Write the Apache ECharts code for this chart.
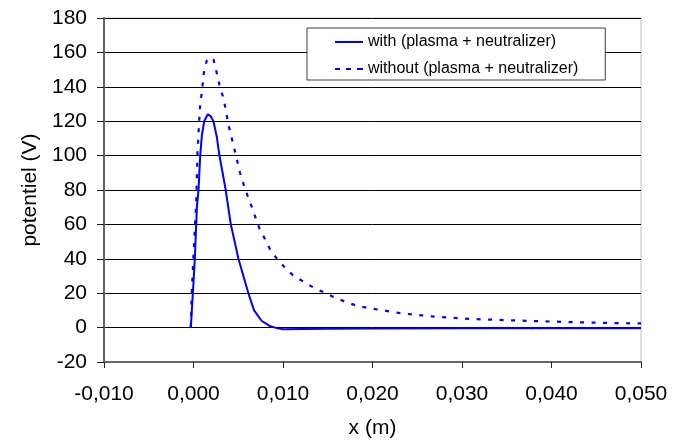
<!DOCTYPE html>
<html>
<head>
<meta charset="utf-8">
<script src="https://cdn.jsdelivr.net/npm/echarts@6/dist/echarts.min.js"></script>
<style>
html,body{margin:0;padding:0;background:#fff;}
#chart{width:674px;height:444px;}
</style>
</head>
<body>
<div id="chart"></div>
<script>
// ---- data ----
var xTicks = [-0.010, 0.000, 0.010, 0.020, 0.030, 0.040, 0.050];
var yTicks = [-20, 0, 20, 40, 60, 80, 100, 120, 140, 160, 180];

var seriesNames = ['with (plasma + neutralizer)', 'without (plasma + neutralizer)'];

var withX = [-0.0003, -0.00007, 0.00015, 0.00038, 0.00056, 0.00075, 0.00094, 0.0012, 0.00160, 0.0019, 0.00223, 0.0026, 0.0029, 0.00325, 0.0036, 0.00417, 0.00502, 0.00613, 0.00677, 0.0076, 0.0085, 0.0093, 0.0100, 0.0120, 0.0150, 0.0200, 0.0300, 0.0400, 0.0500];
var withV = [0, 20, 40, 70, 80, 100, 112, 120, 124, 123, 120, 111, 100, 90, 80, 60, 40, 20, 10, 4, 1, -0.3, -1, -0.8, -0.6, -0.5, -0.4, -0.4, -0.4];

var withoutX = [-0.0003, -0.00018, 0.0000, 0.00019, 0.0003, 0.00038, 0.00045, 0.00056, 0.00067, 0.00075, 0.00094, 0.0012, 0.0015, 0.00186, 0.00223, 0.0026, 0.0029, 0.00328, 0.00353, 0.0039, 0.00428, 0.00465, 0.0052, 0.00558, 0.00613, 0.0065, 0.00736, 0.0080, 0.00855, 0.0093, 0.0102, 0.0111, 0.0123, 0.0134, 0.0146, 0.0158, 0.0170, 0.0182, 0.0195, 0.0206, 0.0234, 0.0273, 0.0310, 0.0350, 0.0388, 0.0427, 0.0465, 0.0500];
var withoutV = [0, 22, 42, 61, 72, 88, 102, 113, 123, 130, 137, 150, 155.5, 157, 156, 148, 141, 134.5, 128.6, 118, 110, 102, 90, 83.6, 75.2, 70.3, 57.7, 51.3, 45.5, 40.2, 35, 30.5, 26.6, 23.3, 20.4, 17.5, 14.9, 12.8, 11.4, 10.5, 8.2, 6.2, 5.0, 4.3, 3.7, 3.1, 2.7, 2.4];

function zip(a, b) { return a.map(function (v, i) { return [v, b[i]]; }); }

var FONT = '"Liberation Sans", Arial, sans-serif';
var chart = echarts.init(document.getElementById('chart'), null, {renderer: 'canvas'});
chart.setOption({
  animation: false,
  backgroundColor: '#ffffff',
  textStyle: {fontFamily: FONT, color: '#000'},
  grid: {left: 104, right: 33, top: 18, bottom: 82, show: true, borderColor: '#c0c0c0', borderWidth: 1, backgroundColor: 'transparent'},
  legend: {
    orient: 'vertical',
    left: 307, top: 28,
    padding: [6, 27, 3, 28],
    itemGap: 11,
    itemWidth: 28, itemHeight: 16,
    backgroundColor: '#fff',
    borderColor: '#404040', borderWidth: 1,
    textStyle: {fontFamily: FONT, fontSize: 16, color: '#000'},
    data: [
      {name: seriesNames[0], icon: 'path://M0,7h28v2h-28zM0,0h0.01v0.01h-0.01zM0,16h0.01v0.01h-0.01z', itemStyle: {color: '#0000ff'}},
      {name: seriesNames[1], icon: 'path://M0,7h5v2h-5zM11,7h5v2h-5zM22,7h6v2h-6zM0,0h0.01v0.01h-0.01zM0,16h0.01v0.01h-0.01z', itemStyle: {color: '#0000ff'}}
    ]
  },
  xAxis: {
    type: 'value',
    min: xTicks[0], max: xTicks[xTicks.length - 1], interval: 0.01,
    name: 'x (m)', nameLocation: 'middle', nameGap: 56,
    nameTextStyle: {fontFamily: FONT, fontSize: 21, color: '#000'},
    axisLine: {show: true, onZero: false, lineStyle: {color: '#666', width: 2}},
    axisTick: {show: true, inside: false, length: 6, lineStyle: {color: '#222', width: 1}},
    axisLabel: {fontFamily: FONT, fontSize: 21, color: '#000', margin: 22,
      formatter: function (v) { return v.toFixed(3).replace('.', ','); }},
    splitLine: {show: false}
  },
  yAxis: {
    type: 'value',
    min: yTicks[0], max: yTicks[yTicks.length - 1], interval: 20,
    name: 'potentiel (V)', nameLocation: 'middle', nameGap: 62,
    nameTextStyle: {fontFamily: FONT, fontSize: 21, color: '#000'},
    axisLine: {show: true, onZero: false, lineStyle: {color: '#666', width: 2}},
    axisTick: {show: true, inside: false, length: 7, lineStyle: {color: '#222', width: 1}},
    axisLabel: {fontFamily: FONT, fontSize: 21, color: '#000', margin: 17},
    splitLine: {show: true, lineStyle: {color: '#000', width: 1}}
  },
  series: [
    {
      name: seriesNames[0], type: 'line', symbol: 'none', showSymbol: false,
      data: zip(withX, withV),
      lineStyle: {color: '#0000ff', width: 2, type: 'solid'},
      itemStyle: {color: '#0000ff'},
      z: 3
    },
    {
      name: seriesNames[1], type: 'line', symbol: 'none', showSymbol: false,
      data: zip(withoutX, withoutV),
      lineStyle: {color: '#0000ff', width: 2.2, type: [4, 7.5]},
      itemStyle: {color: '#0000ff'},
      z: 3
    }
  ]
});
</script>
</body>
</html>
